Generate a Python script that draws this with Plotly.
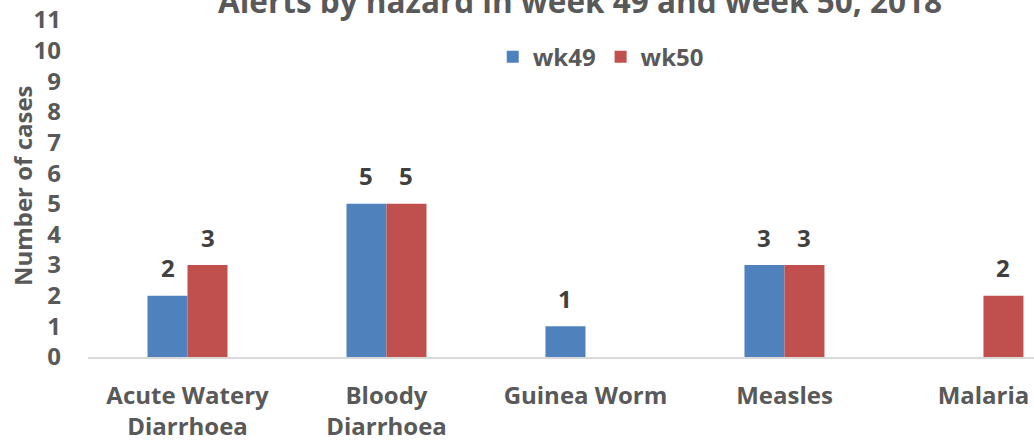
import plotly.graph_objects as go

categories = ["Acute Watery<br>Diarrhoea", "Bloody<br>Diarrhoea", "Guinea Worm", "Measles", "Malaria"]
wk49 = [2, 5, 1, 3, 0]
wk50 = [3, 5, 0, 3, 2]
series_names = ["wk49", "wk50"]
colors = ["#4F81BD", "#C0504D"]
title_text = "Alerts by hazard in week 49 and week 50, 2018"
y_title = "Number of cases"
y_ticks = list(range(0, 12))

FONT = "'Open Sans', Lato, sans-serif"
GREY = "#595959"


def f(size, color=GREY):
    return dict(family=FONT, size=size, color=color, weight="bold")


fig = go.Figure()
for name, vals, col in zip(series_names, [wk49, wk50], colors):
    fig.add_trace(go.Bar(x=categories, y=vals, name=name, marker=dict(color=col, line=dict(width=0))))

annotations = []
for offset, vals in zip([-20, 20], [wk49, wk50]):
    for c, v in zip(categories, vals):
        if v:
            annotations.append(dict(x=c, y=v, xref="x", yref="y", text=str(v), showarrow=False,
                                    xshift=offset, yshift=28, font=f(24, "#404040")))
annotations.append(dict(x=0.52, y=1.0, xref="paper", yref="paper", text=title_text,
                        showarrow=False, xanchor="center", yanchor="bottom", yshift=-4, font=f(31.5)))
annotations.append(dict(x=-0.0698, y=0.51, xref="paper", yref="paper", text=y_title, textangle=-90,
                        showarrow=False, xanchor="center", yanchor="middle", font=f(24)))

fig.update_layout(
    width=1034, height=442,
    margin=dict(l=88, r=0, t=20, b=85, autoexpand=False),
    paper_bgcolor="white", plot_bgcolor="white",
    barmode="group", bargap=0.598, bargroupgap=0,
    font=f(22),
    showlegend=True,
    legend=dict(orientation="h", x=0.542, xanchor="center", y=0.89, yanchor="middle",
                font=f(24), itemwidth=30, bgcolor="rgba(0,0,0,0)"),
    annotations=annotations,
    xaxis=dict(type="category", range=[-0.5, 4.254], showgrid=False, showline=True, linecolor="#D9D9D9",
               linewidth=1.5, ticks="", tickfont=f(24), automargin=False,
               ticklabelstandoff=16),
    yaxis=dict(range=[0, 11], tickvals=y_ticks, showgrid=False, showline=False, zeroline=False,
               tickfont=f(24), automargin=False, ticklabelstandoff=26),
)

fig.write_html("out.html", config={"displayModeBar": False},
               post_script="document.body.style.margin='0px';document.body.style.overflow='hidden';")
